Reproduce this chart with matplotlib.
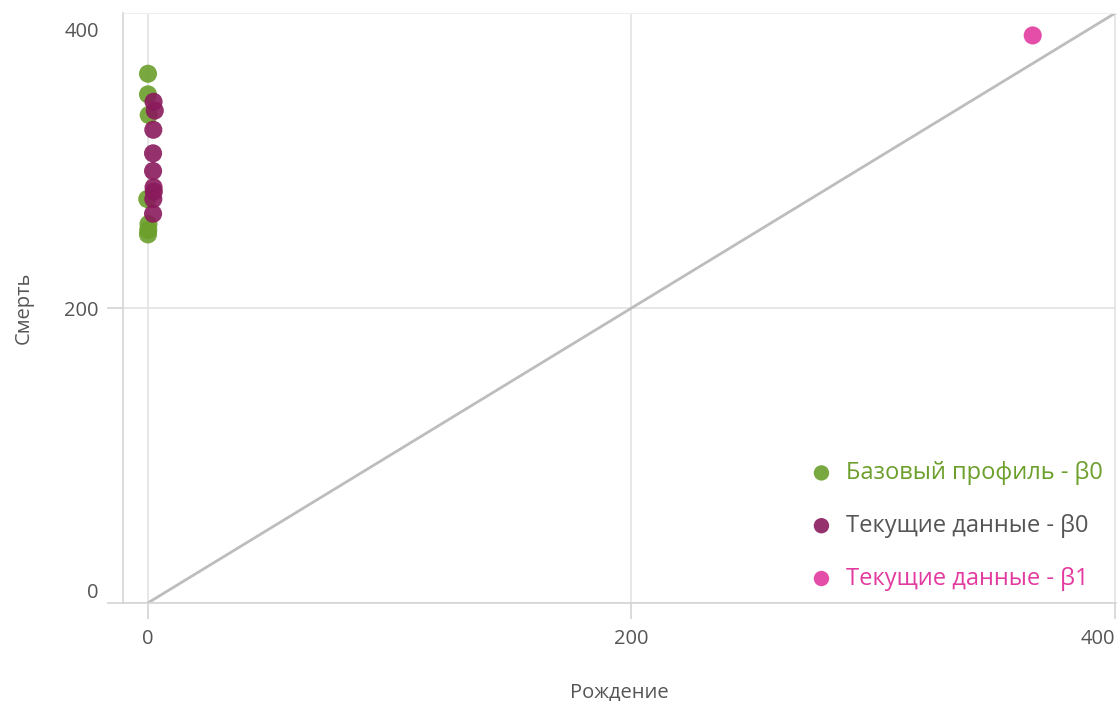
import matplotlib
matplotlib.use("Agg")
import matplotlib.pyplot as plt
import matplotlib.transforms as mtransforms

# Базовый профиль - β0
base_x = [0.0, 0.0, 0.3, -0.3, 0.2, 0.1, 0.0]
base_y = [359, 345, 331, 274, 257, 253, 250]

# Текущие данные - β0
cur0_x = [2.3, 2.8, 2.2, 2.1, 2.1, 2.3, 2.4, 2.2, 2.1]
cur0_y = [340, 334, 321, 305, 293, 282, 279, 274, 264]

# Текущие данные - β1
cur1_x = [366]
cur1_y = [385]

labels = ["Базовый профиль - β0", "Текущие данные - β0", "Текущие данные - β1"]
colors = ["#6c9f2b", "#8a1a5c", "#e23a9f"]
text_colors = ["#6c9f2b", "#555555", "#e23a9f"]

x_ticks = [0, 200, 400]
y_ticks = [0, 200, 400]

plt.rcParams["font.family"] = ["Open Sans", "DejaVu Sans"]

fig = plt.figure(figsize=(11.19, 7.01), dpi=100)
ax = fig.add_axes([0.110, 0.140, 0.887, 0.841])

ax.plot([0, 400], [0, 400], color="#bdbdbd", lw=2, zorder=1)

series = [(base_x, base_y), (cur0_x, cur0_y), (cur1_x, cur1_y)]
for (xs, ys), lab, c in zip(series, labels, colors):
    ax.scatter(xs, ys, s=170, color=c, alpha=0.9, edgecolors="none",
               label=lab, zorder=3)

ax.set_xlim(-10.3, 400.3)
ax.set_ylim(0, 400)
ax.set_xticks(x_ticks)
ax.set_yticks(y_ticks)
ax.grid(True, color="#e3e3e3", lw=1.2, zorder=0)
ax.set_axisbelow(True)

ax.spines["right"].set_visible(False)
ax.spines["top"].set_color("#eeeeee")
ax.spines["left"].set_color("#d4d4d4")
ax.spines["bottom"].set_color("#d4d4d4")
ax.spines["left"].set_linewidth(1.2)
ax.spines["bottom"].set_linewidth(1.2)

ax.tick_params(axis="both", length=11.5, width=1.2, color="#d4d4d4",
               labelcolor="#555555", labelsize=14.5)
ax.tick_params(axis="x", pad=7)
ax.tick_params(axis="y", pad=6)
ylabels = ax.get_yticklabels()
ylabels[0].set_va("bottom")
ylabels[-1].set_va("top")
# the top label sits a bit lower in the original
ylabels[-1].set_transform(ylabels[-1].get_transform()
                          + mtransforms.ScaledTranslation(0, -6 / 72, fig.dpi_scale_trans))
xlabels = ax.get_xticklabels()
xlabels[-1].set_ha("right")
ax.yaxis.get_major_ticks()[-1].tick1line.set_visible(False)

ax.set_xlabel("Рождение", color="#555555", fontsize=14.5, labelpad=24)
ax.set_ylabel("Смерть", color="#555555", fontsize=14.5, labelpad=22)

leg = ax.legend(loc="lower left", bbox_to_anchor=(0.694, 0.127),
                bbox_transform=fig.transFigure, frameon=False,
                fontsize=17, labelspacing=1.22, handletextpad=0.05,
                markerscale=0.85, labelcolor=text_colors)

fig.savefig("out.png", dpi=100)
